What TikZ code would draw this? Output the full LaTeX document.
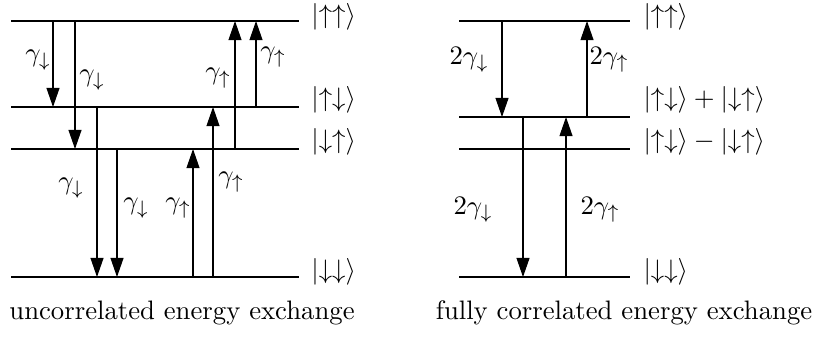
\documentclass[tikz,border=0pt]{standalone}
\usetikzlibrary{arrows.meta}
\begin{document}
\begin{tikzpicture}[x=0.41pt,y=-0.41pt,
  every node/.style={font=\fontsize{10.95pt}{13pt}\selectfont},
  level/.style={line width=0.45pt},
  trans/.style={line width=0.45pt,-{Triangle[length=7.8pt,width=5.3pt]}},
  ket/.style={anchor=west,inner sep=0pt},
  rate/.style={inner sep=0pt},
  captext/.style={inner sep=0pt}]
\useasboundingbox (0,0) rectangle (815,337);
% left levels
\coordinate (L1a) at (11,21);  \coordinate (L1b) at (299,21);
\coordinate (L2a) at (11,107); \coordinate (L2b) at (299,107);
\coordinate (L3a) at (11,149); \coordinate (L3b) at (299,149);
\coordinate (L4a) at (11,277); \coordinate (L4b) at (299,277);
\draw[level] (L1a) -- (L1b);
\draw[level] (L2a) -- (L2b);
\draw[level] (L3a) -- (L3b);
\draw[level] (L4a) -- (L4b);
\node[ket] (kL1) at (311,17) {$|{\uparrow\uparrow}\rangle$};
\node[ket] (kL2) at (311,100) {$|{\uparrow\downarrow}\rangle$};
\node[ket] (kL3) at (311,142) {$|{\downarrow\uparrow}\rangle$};
\node[ket] (kL4) at (311,272) {$|{\downarrow\downarrow}\rangle$};
% left transitions
\coordinate (a1s) at (53,21);  \coordinate (a1e) at (53,107);
\coordinate (a2s) at (75,21);  \coordinate (a2e) at (75,149);
\coordinate (a3s) at (97,107); \coordinate (a3e) at (97,277);
\coordinate (a4s) at (117,149);\coordinate (a4e) at (117,277);
\coordinate (a5s) at (193,277);\coordinate (a5e) at (193,149);
\coordinate (a6s) at (213,277);\coordinate (a6e) at (213,107);
\coordinate (a7s) at (235,149);\coordinate (a7e) at (235,21);
\coordinate (a8s) at (256,107);\coordinate (a8e) at (256,21);
\draw[trans] (a1s) -- (a1e);
\draw[trans] (a2s) -- (a2e);
\draw[trans] (a3s) -- (a3e);
\draw[trans] (a4s) -- (a4e);
\draw[trans] (a5s) -- (a5e);
\draw[trans] (a6s) -- (a6e);
\draw[trans] (a7s) -- (a7e);
\draw[trans] (a8s) -- (a8e);
\node[rate] (r1) at (38,60) {$\gamma_\downarrow$};
\node[rate] (r2) at (92,80) {$\gamma_\downarrow$};
\node[rate] (r3) at (71,188) {$\gamma_\downarrow$};
\node[rate] (r4) at (136,208) {$\gamma_\downarrow$};
\node[rate] (r5) at (178,208) {$\gamma_\uparrow$};
\node[rate] (r6) at (231,182) {$\gamma_\uparrow$};
\node[rate] (r7) at (218,78) {$\gamma_\uparrow$};
\node[rate] (r8) at (273,57) {$\gamma_\uparrow$};
\node[captext] (capL) at (182,313) {uncorrelated energy exchange};
% right levels
\coordinate (R1a) at (459,21);  \coordinate (R1b) at (630,21);
\coordinate (R2a) at (459,117); \coordinate (R2b) at (630,117);
\coordinate (R3a) at (459,149); \coordinate (R3b) at (630,149);
\coordinate (R4a) at (459,277); \coordinate (R4b) at (630,277);
\draw[level] (R1a) -- (R1b);
\draw[level] (R2a) -- (R2b);
\draw[level] (R3a) -- (R3b);
\draw[level] (R4a) -- (R4b);
\node[ket] (kR1) at (643,17) {$|{\uparrow\uparrow}\rangle$};
\node[ket] (kR2) at (643,100) {$|{\uparrow\downarrow}\rangle+|{\downarrow\uparrow}\rangle$};
\node[ket] (kR3) at (643,142) {$|{\uparrow\downarrow}\rangle-|{\downarrow\uparrow}\rangle$};
\node[ket] (kR4) at (643,272) {$|{\downarrow\downarrow}\rangle$};
% right transitions
\coordinate (b1s) at (502,21);  \coordinate (b1e) at (502,117);
\coordinate (b2s) at (587,117); \coordinate (b2e) at (587,21);
\coordinate (b3s) at (523,117); \coordinate (b3e) at (523,277);
\coordinate (b4s) at (566,277); \coordinate (b4e) at (566,117);
\draw[trans] (b1s) -- (b1e);
\draw[trans] (b2s) -- (b2e);
\draw[trans] (b3s) -- (b3e);
\draw[trans] (b4s) -- (b4e);
\node[rate] (s1) at (469,60) {$2\gamma_\downarrow$};
\node[rate] (s2) at (609,60) {$2\gamma_\uparrow$};
\node[rate] (s3) at (473,210) {$2\gamma_\downarrow$};
\node[rate] (s4) at (600,210) {$2\gamma_\uparrow$};
\node[captext] (capR) at (624,313) {fully correlated energy exchange};
\end{tikzpicture}
\end{document}
